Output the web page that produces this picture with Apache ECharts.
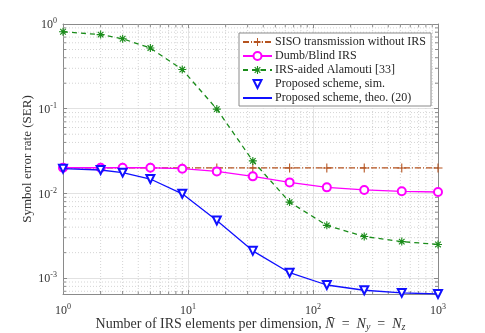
<!DOCTYPE html>
<html>
<head>
<meta charset="utf-8">
<script src="https://cdn.jsdelivr.net/npm/echarts@6/dist/echarts.min.js"></script>
<style>
  html, body { margin: 0; padding: 0; background: #fff; }
  #chart { width: 485px; height: 333px; }
</style>
</head>
<body>
<div id="chart"></div>
<script>
  // values
  const nValues = [1, 2, 3, 5, 9, 17, 33, 65, 129, 257, 513, 1000];
  const serSiso = [0.02, 0.02, 0.02, 0.02, 0.02, 0.02, 0.02, 0.02, 0.02, 0.02, 0.02, 0.02];
  const serDumb = [0.0201, 0.0201, 0.0201, 0.0201, 0.0196, 0.0182, 0.0159, 0.0135, 0.0118, 0.011, 0.0106, 0.0104];
  const serAlamouti = [0.81, 0.75, 0.67, 0.52, 0.29, 0.099, 0.0242, 0.0079, 0.0042, 0.0031, 0.0027, 0.0025];
  const serPropSim = [0.0196, 0.0189, 0.0176, 0.0148, 0.0099, 0.0048, 0.0021, 0.00116, 0.00083, 0.00072, 0.00067, 0.00065];
  const serPropTheo = [0.0196, 0.0189, 0.0176, 0.0148, 0.0099, 0.0048, 0.0021, 0.00116, 0.00083, 0.00072, 0.00067, 0.00065];

  const seriesNames = [
    'SISO transmission without IRS',
    'Dumb/Blind IRS',
    'IRS-aided Alamouti [33]',
    'Proposed scheme, sim.',
    'Proposed scheme, theo. (20)',
  ];

  const xMin = 1, xMax = 1000;
  const yMin = 0.00065, yMax = 1;

  // minor decade steps (2..9 x 10^k) for the dotted grid
  const xMinor = [];
  for (let k = 0; k < 3; k++) for (let m = 2; m <= 9; m++) xMinor.push(m * Math.pow(10, k));
  const yMinor = [];
  for (let k = -4; k < 0; k++) for (let m = 2; m <= 9; m++) {
    const v = m * Math.pow(10, k);
    if (v > yMin && v < yMax) yMinor.push(v);
  }

  const serif = 'Liberation Serif';
  const axisGray = '#8a8a8a';

  const pairs = (ys) => nValues.map((x, i) => [x, ys[i]]);

  const powLabel = (value) => {
    const e = Math.log10(value);
    const r = Math.round(e);
    if (Math.abs(e - r) > 1e-6) return '';
    return '{b|10}{s|' + r + '}';
  };
  const labelRich = {
    b: { fontSize: 12, fontFamily: serif, color: '#333', verticalAlign: 'bottom' },
    s: { fontSize: 8, fontFamily: serif, color: '#333', verticalAlign: 'bottom', padding: [0, 0, 6, 0] },
  };

  const plusPath = 'path://M4.4,0h1.2v10h-1.2z M0,4.4h10v1.2h-10z';
  const starPath = 'path://M4.3,0h1.4v10h-1.4z M0,4.3h10v1.4h-10z M1,2L2,1L9,8L8,9z M8,1L9,2L2,9L1,8z M3,3h4v4h-4z';

  // minor gridlines + inside ticks, placed through the axis scales
  const minorX = (params, api) => {
    const cs = params.coordSys;
    const px = api.coord([api.value(0), 0.01])[0];
    const top = cs.y, bot = cs.y + cs.height;
    return {
      type: 'group',
      children: [
        { type: 'line', shape: { x1: px, y1: top, x2: px, y2: bot },
          style: { stroke: '#d4d4d4', lineWidth: 1, lineDash: [1, 2] } },
        { type: 'line', shape: { x1: px, y1: bot, x2: px, y2: bot - 3 }, style: { stroke: axisGray, lineWidth: 1 } },
        { type: 'line', shape: { x1: px, y1: top, x2: px, y2: top + 3 }, style: { stroke: axisGray, lineWidth: 1 } },
      ],
    };
  };
  const minorY = (params, api) => {
    const cs = params.coordSys;
    const py = api.coord([10, api.value(1)])[1];
    const l = cs.x, r = cs.x + cs.width;
    return {
      type: 'group',
      children: [
        { type: 'line', shape: { x1: l, y1: py, x2: r, y2: py },
          style: { stroke: '#d4d4d4', lineWidth: 1, lineDash: [1, 2] } },
        { type: 'line', shape: { x1: l, y1: py, x2: l + 3, y2: py }, style: { stroke: axisGray, lineWidth: 1 } },
        { type: 'line', shape: { x1: r, y1: py, x2: r - 3, y2: py }, style: { stroke: axisGray, lineWidth: 1 } },
      ],
    };
  };

  const chart = echarts.init(document.getElementById('chart'), null, { renderer: 'canvas' });

  const option = {
    animation: false,
    backgroundColor: '#fff',
    textStyle: { fontFamily: serif },
    grid: { left: 63, top: 24, width: 375, height: 270, containLabel: false, outerBoundsMode: 'none' },
    legend: {
      data: seriesNames.map((n, i) => (i === 4 ? { name: n, itemStyle: { opacity: 0 } } : { name: n })),
      orient: 'vertical',
      left: 239,
      top: 33,
      padding: [3, 5, 2, 3],
      itemWidth: 29,
      itemHeight: 10,
      itemGap: 2,
      backgroundColor: '#fff',
      borderColor: '#8a8a8a',
      borderWidth: 1,
      textStyle: { fontFamily: serif, fontSize: 12, lineHeight: 12, color: '#262626', padding: [0, 0, 0, -2] },
    },
    xAxis: [
      {
        type: 'log', logBase: 10, min: xMin, max: xMax,
        name: 'Number of IRS elements per dimension, {i|N̄}\u2002=\u2002{i|N}{sub|y}\u2002=\u2002{i|N}{sub|z}',
        nameLocation: 'middle', nameGap: 23, nameMoveOverlap: false,
        nameTextStyle: {
          fontFamily: serif, fontSize: 14, color: '#333',
          rich: {
            i: { fontFamily: serif, fontSize: 14, fontStyle: 'italic', color: '#333' },
            sub: { fontFamily: serif, fontSize: 10, fontStyle: 'italic', color: '#333', padding: [5, 0, 0, 0] },
          },
        },
        axisLine: { show: true, lineStyle: { color: axisGray, width: 1 } },
        axisTick: { show: true, inside: true, length: 4, lineStyle: { color: axisGray } },
        axisLabel: { formatter: powLabel, rich: labelRich, margin: 9, showMinLabel: true, showMaxLabel: true },
        splitLine: { show: true, lineStyle: { color: '#e2e2e2', width: 1 } },
        minorTick: { show: false },
      },
      {
        type: 'log', logBase: 10, min: xMin, max: xMax, position: 'top',
        axisLine: { show: true, lineStyle: { color: axisGray, width: 1 } },
        axisTick: { show: true, inside: true, length: 4, lineStyle: { color: axisGray } },
        axisLabel: { show: false },
        splitLine: { show: false },
      },
    ],
    yAxis: [
      {
        type: 'log', logBase: 10, min: yMin, max: yMax,
        name: 'Symbol error rate (SER)',
        nameLocation: 'middle', nameGap: 29, nameMoveOverlap: false,
        nameTextStyle: { fontFamily: serif, fontSize: 13, color: '#333' },
        axisLine: { show: true, lineStyle: { color: axisGray, width: 1 } },
        axisTick: { show: true, inside: true, length: 4, lineStyle: { color: axisGray } },
        axisLabel: { formatter: powLabel, rich: labelRich, margin: 6 },
        splitLine: { show: true, lineStyle: { color: '#e2e2e2', width: 1 } },
      },
      {
        type: 'log', logBase: 10, min: yMin, max: yMax, position: 'right',
        axisLine: { show: true, lineStyle: { color: axisGray, width: 1 } },
        axisTick: { show: true, inside: true, length: 4, lineStyle: { color: axisGray } },
        axisLabel: { show: false },
        splitLine: { show: false },
      },
    ],
    series: [
      {
        name: 'minorX', type: 'custom', silent: true, z: 1, clip: false,
        renderItem: minorX, data: xMinor.map((v) => [v, 0.01]),
      },
      {
        name: 'minorY', type: 'custom', silent: true, z: 1, clip: false,
        renderItem: minorY, data: yMinor.map((v) => [10, v]),
      },
      {
        name: seriesNames[0], type: 'line', data: pairs(serSiso), z: 3,
        symbol: plusPath, symbolSize: 9, showAllSymbol: true,
        lineStyle: { color: '#b5531f', width: 1.3, type: [6, 2, 1, 2] },
        itemStyle: { color: '#b5531f' },
      },
      {
        name: seriesNames[1], type: 'line', data: pairs(serDumb), z: 4,
        symbol: 'emptyCircle', symbolSize: 8,
        lineStyle: { color: '#ff00ff', width: 1.3 },
        itemStyle: { color: '#ff00ff', borderWidth: 1.3 },
      },
      {
        name: seriesNames[2], type: 'line', data: pairs(serAlamouti), z: 4,
        symbol: starPath, symbolSize: 8,
        lineStyle: { color: '#1a8c1a', width: 1.3, type: [5, 4] },
        itemStyle: { color: '#1a8c1a' },
      },
      {
        name: seriesNames[3], type: 'line', data: pairs(serPropSim), z: 6, clip: false,
        symbol: 'emptyTriangle', symbolRotate: 180, symbolSize: 8,
        lineStyle: { opacity: 0, width: 0 },
        itemStyle: { color: '#1010ff', borderWidth: 1.3 },
      },
      {
        name: seriesNames[4], type: 'line', data: pairs(serPropTheo), z: 5,
        showSymbol: false, symbol: 'none',
        lineStyle: { color: '#1010ff', width: 1.3 },
        itemStyle: { color: '#1010ff' },
      },
    ],
  };

  chart.setOption(option);
</script>
</body>
</html>
